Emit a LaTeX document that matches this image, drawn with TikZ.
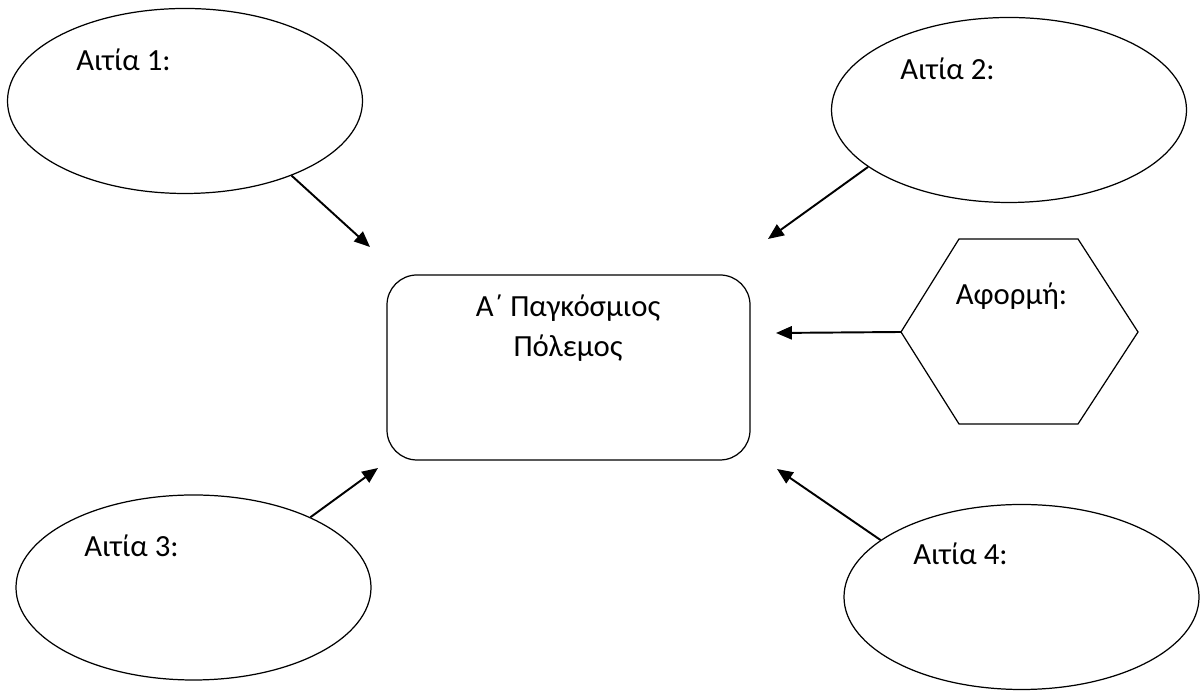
\documentclass[tikz,border=0pt]{standalone}
\usepackage{fontspec}
\setmainfont{Carlito}
\usepackage{tikz}
\usetikzlibrary{positioning,arrows.meta,shapes.geometric,calc}

\begin{document}
\begin{tikzpicture}[
  cause/.style={draw, ellipse, line width=0.7pt, minimum width=7.1cm, minimum height=3.7cm, inner sep=0pt},
  war/.style={draw, rounded corners=0.6cm, line width=0.7pt, minimum width=7.26cm, minimum height=3.7cm},
  lbl/.style={font=\fontsize{17.5}{22.7}\selectfont, inner sep=0pt},
  link/.style={line width=1.1pt, -{Triangle[length=9pt,width=7.5pt]}}
]
  \useasboundingbox (0,0) rectangle (24.08,13.84);

  % Central box
  \node[war] (ww) at (11.37,6.49) {};
  \node[lbl, align=center, anchor=base] (wwtext) at (11.36,6.71) {Α΄ Παγκόσμιος\\Πόλεμος};

  % Causes
  \node[cause] (c1) at (3.70,11.82) {};
  \node[lbl, anchor=base west] at (1.52,12.43) {Αιτία 1:};

  \node[cause] (c2) at (20.18,11.64) {};
  \node[lbl, anchor=base west] at (18.00,12.24) {Αιτία 2:};

  \node[cause] (c3) at (3.87,2.09) {};
  \node[lbl, anchor=base west] at (1.68,2.71) {Αιτία 3:};

  \node[cause] (c4) at (20.43,1.90) {};
  \node[lbl, anchor=base west] at (18.26,2.54) {Αιτία 4:};

  % Trigger hexagon
  \coordinate (h1) at (19.18,9.06);
  \coordinate (h2) at (21.56,9.06);
  \coordinate (h3) at (22.76,7.20);
  \coordinate (h4) at (21.56,5.36);
  \coordinate (h5) at (19.18,5.36);
  \coordinate (h6) at (18.02,7.20);
  \draw[line width=0.7pt] (h1) -- (h2) -- (h3) -- (h4) -- (h5) -- (h6) -- cycle;
  \node[lbl, anchor=base west] at (19.11,7.74) {Αφορμή:};

  % Arrow ends near the box
  \coordinate (t1) at (7.40,8.90);
  \coordinate (t2) at (15.36,9.06);
  \coordinate (t3) at (7.56,4.48);
  \coordinate (t4) at (15.54,4.46);
  \coordinate (t5) at (15.52,7.18);

  \draw[link] (c1.-35) -- (t1);
  \draw[link] (c2.-158) -- (t2);
  \draw[link] (c3.31) -- (t3);
  \draw[link] (c4.158) -- (t4);
  \draw[link] (h6) -- (t5);
\end{tikzpicture}
\end{document}
